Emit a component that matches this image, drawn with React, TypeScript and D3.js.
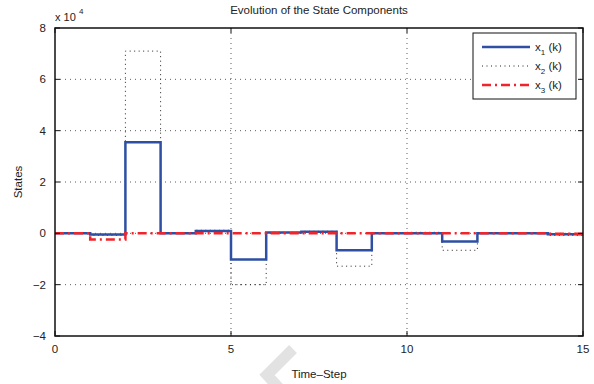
import React from "react";
import * as d3 from "d3";

const steps = [0, 1, 2, 3, 4, 5, 6, 7, 8, 9, 10, 11, 12, 13, 14];
const x1 = [0, -0.05, 3.55, 0, 0.09, -1.02, 0.03, 0.06, -0.66, 0, 0, -0.32, 0, 0, -0.04];
const x2 = [0, -0.08, 7.1, 0, 0.12, -2.0, 0.04, 0.08, -1.28, 0, 0.04, -0.66, 0, 0, -0.08];
const x3 = [0, -0.24, 0, 0, 0, 0, 0, 0, 0, 0, 0, 0, 0, 0, -0.02];
const xTicks = [0, 5, 10, 15];
const yTicks = [-4, -2, 0, 2, 4, 6, 8];
const legendLabels = ["1", "2", "3"];

const W = 594, H = 384;
const L = 55, R = 583, T = 28, B = 336;

export default function App() {
  const x = d3.scaleLinear().domain([0, 15]).range([L, R]);
  const y = d3.scaleLinear().domain([-4, 8]).range([B, T]);
  const line = d3
    .line<[number, number]>()
    .x((d) => x(d[0]))
    .y((d) => y(d[1]))
    .curve(d3.curveStepAfter);
  const pts = (v: number[]) => {
    const p: [number, number][] = steps.map((s, i) => [s, v[i]]);
    p.push([15, v[v.length - 1]]);
    return p;
  };
  const font = "'Liberation Sans', Arial, sans-serif";
  const series = [
    { v: x2, stroke: "#222", width: 1, dash: "1,3.5" },
    { v: x1, stroke: "#2e4fa3", width: 2.5, dash: undefined },
    { v: x3, stroke: "#f0242a", width: 2.5, dash: "9,4,2,4" },
  ];
  const legendStyles = [series[1], series[0], series[2]];
  return (
    <div style={{ position: "absolute", left: 0, top: 0 }}>
      <svg width={W} height={H} style={{ display: "block", fontFamily: font }}>
        <rect width={W} height={H} fill="#fff" />
        {/* watermark */}
        <polyline
          points="293,349 267,375 279,388"
          fill="none"
          stroke="#e2e2e2"
          strokeWidth={11}
        />
        {/* grid */}
        {xTicks.slice(1, -1).map((t) => (
          <line key={"gx" + t} x1={x(t)} x2={x(t)} y1={T} y2={B} stroke="#333" strokeWidth={0.8} strokeDasharray="1,4" />
        ))}
        {yTicks.slice(1, -1).map((t) => (
          <line key={"gy" + t} x1={L} x2={R} y1={y(t)} y2={y(t)} stroke="#333" strokeWidth={0.8} strokeDasharray="1,4" />
        ))}
        {/* series */}
        {series.map((s, i) => (
          <path key={i} d={line(pts(s.v)) || ""} fill="none" stroke={s.stroke} strokeWidth={s.width} strokeDasharray={s.dash} />
        ))}
        {/* box */}
        <rect x={L} y={T} width={R - L} height={B - T} fill="none" stroke="#111" strokeWidth={1.5} />
        {/* ticks */}
        {xTicks.map((t) => (
          <g key={"tx" + t}>
            <line x1={x(t)} x2={x(t)} y1={B} y2={B - 5} stroke="#111" />
            <line x1={x(t)} x2={x(t)} y1={T} y2={T + 5} stroke="#111" />
            <text x={x(t)} y={B + 17} textAnchor="middle" fontSize={11.5} fill="#222">{t}</text>
          </g>
        ))}
        {yTicks.map((t) => (
          <g key={"ty" + t}>
            <line x1={L} x2={L + 5} y1={y(t)} y2={y(t)} stroke="#111" />
            <line x1={R} x2={R - 5} y1={y(t)} y2={y(t)} stroke="#111" />
            <text x={L - 9} y={y(t) + 4} textAnchor="end" fontSize={11.5} fill="#222">
              {t < 0 ? "\u2212" + Math.abs(t) : t}
            </text>
          </g>
        ))}
        {/* exponent */}
        <text x={L} y={21} fontSize={11} fill="#222">x 10</text>
        <text x={L + 24} y={14} fontSize={8} fill="#222">4</text>
        {/* title & labels */}
        <text x={(L + R) / 2} y={14} textAnchor="middle" fontSize={11.5} fill="#222">Evolution of the State Components</text>
        <text x={(L + R) / 2} y={378} textAnchor="middle" fontSize={11.5} fill="#222">Time{"\u2013"}Step</text>
        <text transform={`translate(22,${(T + B) / 2}) rotate(-90)`} textAnchor="middle" fontSize={11.5} fill="#222">States</text>
        {/* legend */}
        <rect x={473} y={33} width={103} height={66} fill="#fff" stroke="#111" strokeWidth={1} />
        {legendStyles.map((s, i) => {
          const ly = 47 + i * 19;
          return (
            <g key={"lg" + i}>
              <line x1={482} x2={530} y1={ly} y2={ly} stroke={s.stroke} strokeWidth={s.width} strokeDasharray={s.dash} />
              <text x={535} y={ly + 4} fontSize={11.5} fill="#222">
                x<tspan fontSize={8} dy={4}>{legendLabels[i]}</tspan>
                <tspan dy={-4}>{" (k)"}</tspan>
              </text>
            </g>
          );
        })}
      </svg>
    </div>
  );
}
